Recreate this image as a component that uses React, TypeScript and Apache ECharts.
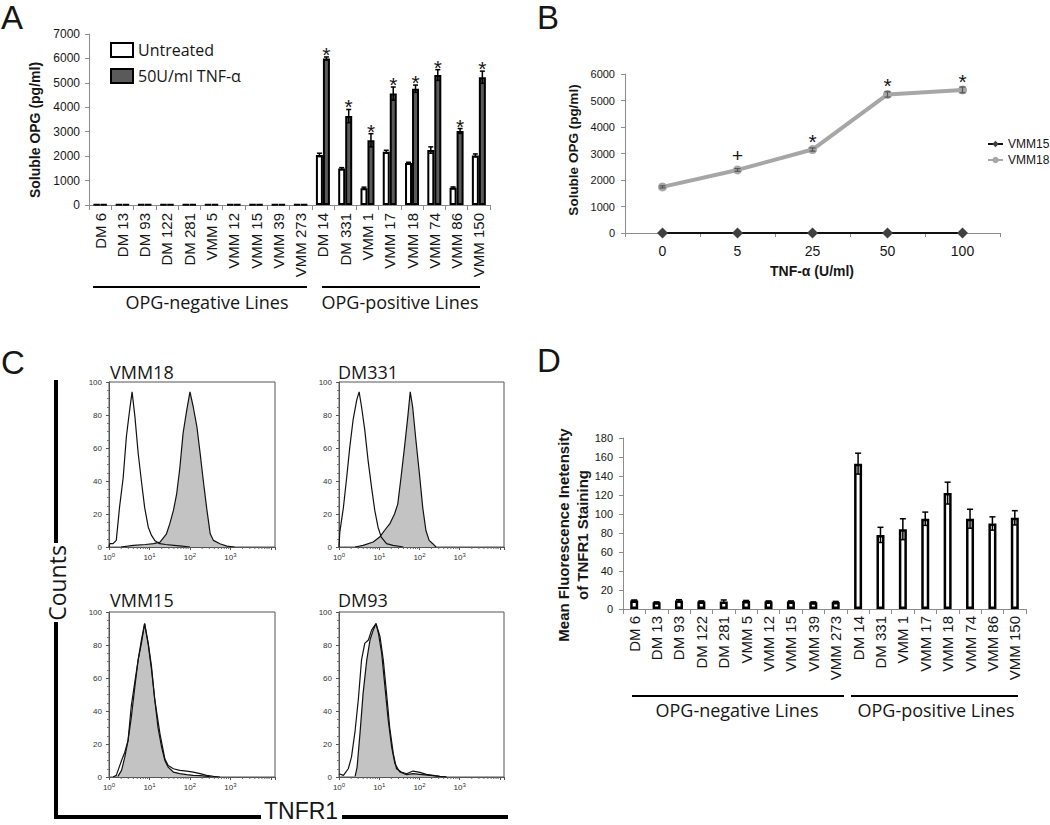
import React, { useEffect, useRef } from 'react';
import * as echarts from 'echarts';

// ---------- Panel A ----------
const cellLines = ['DM 6', 'DM 13', 'DM 93', 'DM 122', 'DM 281', 'VMM 5', 'VMM 12', 'VMM 15', 'VMM 39', 'VMM 273', 'DM 14', 'DM 331', 'VMM 1', 'VMM 17', 'VMM 18', 'VMM 74', 'VMM 86', 'VMM 150'];
const aUntreated = [20, 20, 20, 20, 20, 20, 20, 20, 20, 20, 2050, 1490, 690, 2180, 1720, 2250, 710, 2030];
const aUntreatedErr = [0, 0, 0, 0, 0, 0, 0, 0, 0, 0, 70, 40, 40, 60, 30, 130, 30, 60];
const aTnf = [20, 20, 20, 20, 20, 20, 20, 20, 20, 20, 6000, 3640, 2650, 4560, 4760, 5320, 3030, 5230];
const aTnfErr = [0, 0, 0, 0, 0, 0, 0, 0, 0, 0, 60, 270, 270, 270, 150, 220, 100, 250];
const aStar = [0, 0, 0, 0, 0, 0, 0, 0, 0, 0, 1, 1, 1, 1, 1, 1, 1, 1];

// ---------- Panel B ----------
const doses = ['0', '5', '25', '50', '100'];
const bVmm15 = [0, 0, 0, 0, 0];
const bVmm18 = [1740, 2380, 3150, 5230, 5400];
const bVmm18Err = [40, 50, 60, 100, 110];
const bMark = ['', '+', '*', '*', '*'];

// ---------- Panel C (x = log10 fluorescence, y = counts) ----------
const vmm18Stain = [[0.3, 0], [0.6, 1], [0.9, 1.5], [1.1, 2], [1.26, 3], [1.42, 8], [1.5, 14], [1.59, 22], [1.67, 32], [1.75, 48], [1.83, 69], [1.92, 83], [2.0, 94], [2.08, 85], [2.17, 73], [2.25, 57], [2.33, 40], [2.41, 24], [2.5, 8], [2.58, 4], [2.74, 2], [2.91, 0.5], [3.1, 0]];
const vmm18Ctrl = [[0, 0], [0.02, 2], [0.1, 2], [0.18, 4], [0.26, 24], [0.35, 42], [0.43, 67], [0.51, 83], [0.57, 94], [0.64, 79], [0.72, 57], [0.8, 40], [0.88, 24], [0.97, 12], [1.05, 7], [1.13, 4], [1.25, 2], [1.4, 1.5], [1.6, 1], [1.8, 0.5], [2.0, 0]];
const dm331Stain = [[0.4, 0], [0.6, 1], [0.85, 3], [1.01, 6], [1.13, 10], [1.26, 14], [1.38, 20], [1.46, 26], [1.54, 42], [1.63, 61], [1.71, 79], [1.77, 94], [1.83, 85], [1.91, 65], [2.0, 44], [2.08, 24], [2.16, 10], [2.24, 4], [2.33, 2], [2.41, 0]];
const dm331Ctrl = [[0, 0], [0.02, 9], [0.11, 24], [0.19, 42], [0.27, 61], [0.35, 77], [0.44, 89], [0.5, 94], [0.56, 85], [0.64, 71], [0.72, 53], [0.81, 36], [0.89, 22], [0.97, 12], [1.05, 6], [1.18, 2], [1.34, 1], [1.6, 0]];
const vmm15Stain = [[0.22, 0.4], [0.31, 4], [0.39, 12], [0.47, 22], [0.55, 36], [0.64, 55], [0.72, 71], [0.8, 83], [0.88, 93], [0.97, 81], [1.05, 67], [1.13, 47], [1.21, 30], [1.3, 18], [1.38, 10], [1.46, 6], [1.59, 3], [1.75, 2], [1.92, 1.4], [2.08, 1], [2.25, 0.8], [2.5, 0.2]];
const vmm15Ctrl = [[0.1, 0], [0.18, 1], [0.31, 10], [0.39, 15], [0.47, 22], [0.55, 43], [0.64, 58], [0.72, 71], [0.8, 81], [0.88, 93], [0.97, 80], [1.05, 65], [1.13, 47], [1.26, 26], [1.38, 11], [1.46, 7], [1.59, 5], [1.75, 4], [1.92, 3.6], [2.08, 3], [2.25, 2], [2.41, 1], [2.58, 0.4], [2.74, 0]];
const dm93Stain = [[0.4, 0.4], [0.45, 6], [0.52, 26], [0.6, 51], [0.69, 71], [0.77, 83], [0.85, 89], [0.92, 93], [0.98, 87], [1.06, 75], [1.14, 55], [1.22, 35], [1.31, 18], [1.39, 8], [1.51, 3], [1.68, 1.4], [1.84, 2], [2.01, 1.6], [2.26, 1], [2.5, 0.4], [2.67, 0]];
const dm93Ctrl = [[0, 2], [0.11, 1], [0.23, 5], [0.31, 12], [0.4, 28], [0.48, 47], [0.56, 71], [0.64, 81], [0.73, 83], [0.81, 89], [0.92, 93], [1.02, 85], [1.1, 71], [1.18, 51], [1.26, 30], [1.35, 14], [1.43, 5], [1.55, 3], [1.68, 2], [1.84, 3.6], [2.01, 2.8], [2.17, 1.6], [2.34, 1], [2.5, 0.4], [2.67, 0]];
const histTitles = ['VMM18', 'DM331', 'VMM15', 'DM93'];

// ---------- Panel D ----------
const dMfi = [9, 7, 9, 8, 8, 8.5, 8, 8, 7, 7.5, 153, 78, 84, 95, 122, 95, 90, 96];
const dMfiErr = [0.5, 0.5, 0.8, 0.5, 1.5, 0.5, 0.5, 0.5, 0.5, 0.5, 11, 8, 11, 7, 11.5, 10, 7, 7.5];

const SANS = '"Liberation Sans", Arial, sans-serif';
const MYR = '"Open Sans", sans-serif';
const INK = '#161616';
const AXIS = '#8c8c8c';

// minor log ticks (axis decoration)
const logMinor: number[] = [];
for (let d = 0; d < 4; d++) for (let k = 2; k <= 9; k++) logMinor.push(d + Math.log10(k));

function txt(text: string, x: number, y: number, size: number, opts: any = {}) {
  return {
    type: 'text', x, y, rotation: opts.rotation || 0, silent: true,
    style: {
      text, fontSize: size, fontFamily: opts.family || MYR, fontWeight: opts.weight || 'normal',
      fill: INK, align: opts.align || 'center', verticalAlign: opts.va || 'middle',
      lineHeight: opts.lineHeight,
    },
  };
}
function ln(x1: number, y1: number, x2: number, y2: number, w: number) {
  return { type: 'line', silent: true, shape: { x1, y1, x2, y2 }, style: { stroke: '#000', lineWidth: w } };
}

function errBars(offset: number, cap: number, lw: number, color: string) {
  return (params: any, api: any) => {
    const i = api.value(0), v = api.value(1), e = api.value(2);
    const side = api.value(3) || 0;
    const c = api.coord([i, v]);
    const x = c[0] + side * offset;
    const yt = api.coord([i, v + e])[1];
    const yb = api.coord([i, Math.max(v - e, 0)])[1];
    const st = { stroke: color, lineWidth: lw };
    const children: any[] = [];
    if (e > 0) {
      children.push({ type: 'line', shape: { x1: x, y1: yt, x2: x, y2: yb }, style: st });
      children.push({ type: 'line', shape: { x1: x - cap, y1: yt, x2: x + cap, y2: yt }, style: st });
      children.push({ type: 'line', shape: { x1: x - cap, y1: yb, x2: x + cap, y2: yb }, style: st });
    }
    return { type: 'group', children };
  };
}

function markRender(starDy: number, plusDy: number) {
  return (params: any, api: any) => {
    const i = api.value(0), top = api.value(1);
    const side = api.value(2) || 0;
    const label = String(api.value(3));
    const c = api.coord([i, top]);
    const isStar = label === '*';
    return {
      type: 'text',
      style: {
        text: label, x: c[0] + side * 3.5, y: c[1] - (isStar ? starDy : plusDy),
        align: 'center', verticalAlign: 'middle', fontSize: isStar ? 21 : 19, fontFamily: SANS, fill: INK,
      },
    };
  };
}

const plain = (v: number) => String(v);

export default function App() {
  const ref = useRef<HTMLDivElement>(null);
  useEffect(() => {
    if (!ref.current) return;
    const chart = echarts.init(ref.current, undefined, { renderer: 'svg' });

    const histGrids = [
      { left: 109, top: 382, width: 166, height: 165 },
      { left: 339, top: 382, width: 165, height: 165 },
      { left: 109, top: 612, width: 166, height: 165 },
      { left: 339, top: 612, width: 165, height: 165 },
    ];
    const histData = [[vmm18Stain, vmm18Ctrl], [dm331Stain, dm331Ctrl], [vmm15Stain, vmm15Ctrl], [dm93Stain, dm93Ctrl]];

    const grid: any[] = [
      { left: 89, top: 34, width: 401, height: 171 },
      { left: 625, top: 74, width: 375, height: 159 },
      ...histGrids.map((g) => ({ ...g, show: true, borderColor: '#555', borderWidth: 1, backgroundColor: 'transparent' })),
      { left: 623, top: 438, width: 403, height: 171 },
    ];

    const catX = (gi: number, fs: number, margin: number) => ({
      type: 'category', gridIndex: gi, data: cellLines,
      axisLine: { lineStyle: { color: AXIS, width: 1 } },
      axisTick: { show: true, interval: 0, length: 5, lineStyle: { color: AXIS } },
      axisLabel: { rotate: 90, interval: 0, fontSize: fs, fontFamily: SANS, color: INK, margin },
    });
    const valY = (gi: number, max: number, interval: number, fs: number, margin: number) => ({
      type: 'value', gridIndex: gi, min: 0, max, interval,
      axisLine: { show: true, lineStyle: { color: AXIS, width: 1 } },
      axisTick: { show: true, length: 4, lineStyle: { color: AXIS } },
      splitLine: { show: false },
      axisLabel: { fontSize: fs, fontFamily: SANS, color: INK, margin, formatter: plain },
    });

    const histX = (gi: number) => ({
      type: 'value', gridIndex: gi, min: 0, max: 4.1, interval: 1,
      axisLine: { lineStyle: { color: '#555' } },
      axisTick: { show: true, length: 3, lineStyle: { color: '#555' } },
      splitLine: { show: false },
      axisLabel: {
        margin: 5, color: '#333',
        formatter: (v: number) => (Math.abs(v - Math.round(v)) < 1e-6 && v <= 3 ? `{a|10}{b|${Math.round(v)}}` : ''),
        rich: {
          a: { fontSize: 8, fontFamily: SANS, color: '#333' },
          b: { fontSize: 6, fontFamily: SANS, color: '#333', verticalAlign: 'top', padding: [0, 0, 5, 0] },
        },
      },
    });
    const histY = (gi: number) => ({
      type: 'value', gridIndex: gi, min: 0, max: 100, interval: 20,
      axisLine: { show: true, lineStyle: { color: '#555' } },
      axisTick: { show: true, length: 3, lineStyle: { color: '#555' } },
      minorTick: { show: true, splitNumber: 4, length: 2, lineStyle: { color: '#777' } },
      splitLine: { show: false },
      axisLabel: { fontSize: 8, fontFamily: SANS, color: '#333', margin: 7 },
    });

    const xAxis: any[] = [
      catX(0, 15, 8),
      {
        type: 'category', gridIndex: 1, data: doses,
        axisLine: { lineStyle: { color: AXIS } },
        axisTick: { show: true, interval: 0, length: 4, lineStyle: { color: AXIS } },
        axisLabel: { fontSize: 14, fontFamily: SANS, color: INK, margin: 11 },
      },
      histX(2), histX(3), histX(4), histX(5),
      catX(6, 15, 7),
    ];
    const yAxis: any[] = [
      valY(0, 7000, 1000, 12, 9),
      valY(1, 6000, 1000, 11, 10),
      histY(2), histY(3), histY(4), histY(5),
      valY(6, 180, 20, 11, 10),
    ];

    const series: any[] = [
      {
        type: 'bar', name: 'Untreated', xAxisIndex: 0, yAxisIndex: 0, data: aUntreated,
        barWidth: 7, barGap: '0%', itemStyle: { color: '#ffffff', borderColor: '#000', borderWidth: 2 },
      },
      {
        type: 'bar', name: '50U/ml TNF-α', xAxisIndex: 0, yAxisIndex: 0, data: aTnf,
        barWidth: 7, barGap: '0%', itemStyle: { color: '#5a5a5a', borderColor: '#000', borderWidth: 2 },
      },
      {
        type: 'custom', name: 'aErr', xAxisIndex: 0, yAxisIndex: 0, z: 5,
        data: [
          ...aUntreated.map((v, i) => [i, v, aUntreatedErr[i], -1]),
          ...aTnf.map((v, i) => [i, v, aTnfErr[i], 1]),
        ],
        encode: { x: 0, y: 1 },
        renderItem: errBars(3.5, 2.5, 1.5, '#000'),
      },
      {
        type: 'custom', name: 'aStars', xAxisIndex: 0, yAxisIndex: 0, z: 5,
        data: aTnf.map((v, i) => [i, v + aTnfErr[i], 1, '*']).filter((d, i) => aStar[i]),
        encode: { x: 0, y: 1 },
        renderItem: markRender(2.5, 10),
      },
      // Panel B
      {
        type: 'line', name: 'VMM15', xAxisIndex: 1, yAxisIndex: 1, data: bVmm15, clip: false,
        symbol: 'diamond', symbolSize: 11, lineStyle: { color: '#111', width: 2 }, itemStyle: { color: '#404040' }, z: 4,
      },
      {
        type: 'line', name: 'VMM18', xAxisIndex: 1, yAxisIndex: 1, data: bVmm18, clip: false,
        symbol: 'circle', symbolSize: 9, lineStyle: { color: '#a6a6a6', width: 4 }, itemStyle: { color: '#a6a6a6' }, z: 3,
      },
      {
        type: 'custom', name: 'bErr', xAxisIndex: 1, yAxisIndex: 1, z: 5,
        data: bVmm18.map((v, i) => [i, v, bVmm18Err[i], 0]),
        encode: { x: 0, y: 1 },
        renderItem: errBars(0, 3, 1.2, '#555'),
      },
      {
        type: 'custom', name: 'bMarks', xAxisIndex: 1, yAxisIndex: 1, z: 5,
        data: bVmm18.map((v, i) => [i, v, 0, bMark[i]]).filter((d) => d[3] !== ''),
        encode: { x: 0, y: 1 },
        renderItem: markRender(8.5, 14),
      },
      // Panel D
      {
        type: 'bar', name: 'MFI', xAxisIndex: 6, yAxisIndex: 6, data: dMfi,
        barWidth: 8, itemStyle: { color: '#ffffff', borderColor: '#000', borderWidth: 2.5 },
      },
      {
        type: 'custom', name: 'dErr', xAxisIndex: 6, yAxisIndex: 6, z: 5,
        data: dMfi.map((v, i) => [i, v, dMfiErr[i], 0]),
        encode: { x: 0, y: 1 },
        renderItem: errBars(0, 3, 1.5, '#000'),
      },
    ];

    histData.forEach(([stain, ctrl], k) => {
      const gi = 2 + k;
      series.push({
        type: 'line', name: `${histTitles[k]} TNFR1`, xAxisIndex: gi, yAxisIndex: gi, data: stain,
        showSymbol: false, symbol: 'none', lineStyle: { color: '#111', width: 1.2 },
        areaStyle: { color: '#c3c3c3', opacity: 1 }, z: 2,
      });
      series.push({
        type: 'line', name: `${histTitles[k]} control`, xAxisIndex: gi, yAxisIndex: gi, data: ctrl,
        showSymbol: false, symbol: 'none', lineStyle: { color: '#111', width: 1.2 }, z: 3,
      });
      series.push({
        type: 'custom', name: `${histTitles[k]} minor`, xAxisIndex: gi, yAxisIndex: gi, z: 4, silent: true,
        data: logMinor.map((m) => [m, 0]),
        encode: { x: 0, y: 1 },
        clip: false,
        renderItem: (params: any, api: any) => {
          const p = api.coord([api.value(0), 0]);
          return { type: 'line', shape: { x1: p[0], y1: p[1], x2: p[0], y2: p[1] + 2 }, style: { stroke: '#666', lineWidth: 1 } };
        },
      });
    });

    const graphic: any[] = [
      // panel letters
      txt('A', 1, 17.6, 33, { align: 'left', family: SANS }),
      txt('B', 537, 17.6, 33, { align: 'left', family: SANS }),
      txt('C', 1, 362, 33, { align: 'left', family: SANS }),
      txt('D', 537, 360.8, 33, { align: 'left', family: SANS }),
      // axis titles
      txt('Soluble OPG (pg/ml)', 35, 130, 14, { family: SANS, weight: 'bold', rotation: Math.PI / 2 }),
      txt('Soluble OPG (pg/ml)', 573, 150, 13.5, { family: SANS, weight: 'bold', rotation: Math.PI / 2 }),
      txt('TNF-α (U/ml)', 812, 271, 14, { family: SANS, weight: 'bold' }),
      txt('Mean Fluorescence Inetensity\nof TNFR1 Staining', 573, 535, 15, { family: SANS, weight: 'bold', rotation: Math.PI / 2, lineHeight: 19 }),
      // bracket lines and labels, panel A
      ln(93, 287, 307, 287, 2), ln(322, 287, 480, 287, 2),
      txt('OPG-negative Lines', 207, 302, 18),
      txt('OPG-positive Lines', 400, 302, 18),
      // panel D
      ln(632, 696, 844, 696, 2), ln(851, 696, 1018, 696, 2),
      txt('OPG-negative Lines', 737, 710, 18),
      txt('OPG-positive Lines', 936, 710, 18),
      // panel C frame
      ln(56, 380, 56, 543, 4), ln(56, 622, 56, 819, 4),
      ln(54, 817, 261, 817, 4), ln(342, 817, 508, 817, 4),
      txt('Counts', 57, 583, 23, { rotation: Math.PI / 2 }),
      txt('TNFR1', 264, 811, 23, { align: 'left', family: SANS }),
      txt(histTitles[0], 110, 372, 18, { align: 'left' }),
      txt(histTitles[1], 338, 372, 18, { align: 'left' }),
      txt(histTitles[2], 110, 600, 18, { align: 'left' }),
      txt(histTitles[3], 338, 600, 18, { align: 'left' }),
    ];

    chart.setOption({
      animation: false,
      backgroundColor: '#ffffff',
      grid,
      xAxis,
      yAxis,
      legend: [
        {
          data: ['Untreated', '50U/ml TNF-α'], orient: 'vertical', left: 110, top: 42, padding: 0,
          itemWidth: 22, itemHeight: 14, itemGap: 10, icon: 'rect', selectedMode: false,
          textStyle: { fontSize: 16, fontFamily: MYR, color: INK },
        },
        {
          data: ['VMM15', 'VMM18'], orient: 'vertical', left: 987, top: 138, padding: 0,
          itemWidth: 15, itemHeight: 8, itemGap: 4, selectedMode: false,
          textStyle: { fontSize: 12, fontFamily: SANS, color: INK },
        },
      ],
      series,
      graphic: { elements: graphic },
    });
    return () => chart.dispose();
  }, []);
  return <div ref={ref} style={{ position: 'absolute', left: 0, top: 0, width: 1050, height: 825, background: '#fff' }} />;
}
